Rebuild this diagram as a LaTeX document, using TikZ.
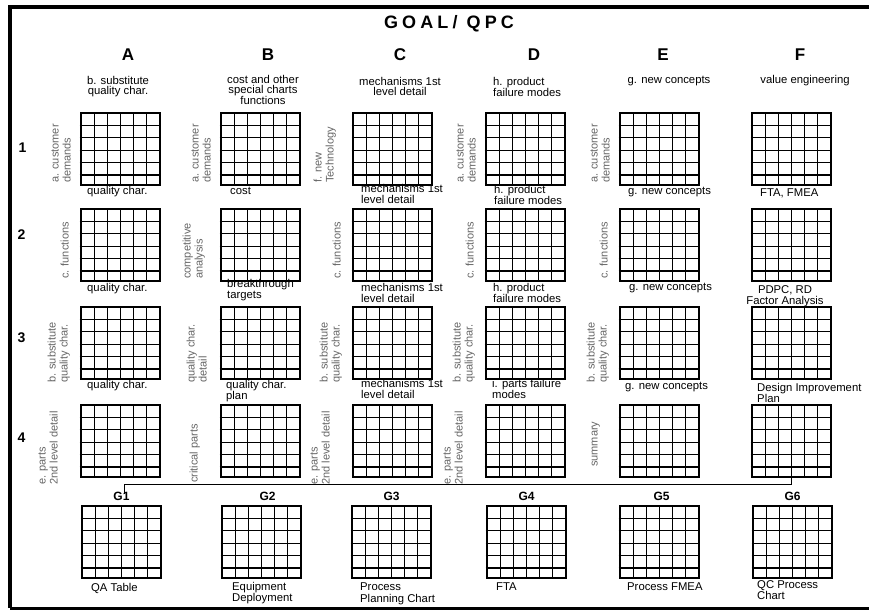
\documentclass[tikz,border=0pt]{standalone}
\usepackage{fontspec}
\setmainfont{Liberation Sans}
\usetikzlibrary{calc,positioning}

\tikzset{
  gridbox/.style={draw, line width=1.1pt, minimum width=79pt, minimum height=72pt,
    inner sep=0pt, outer sep=0pt, anchor=north west},
  gridline/.style={line width=1.1pt},
  title/.style={font=\bfseries\fontsize{18}{18}\selectfont\addfontfeature{LetterSpace=23}, inner sep=0pt},
  colhead/.style={font=\bfseries\fontsize{17}{17}\selectfont, inner sep=0pt},
  rowhead/.style={font=\bfseries\fontsize{14}{14}\selectfont, inner sep=0pt},
  ghead/.style={font=\bfseries\fontsize{12}{12}\selectfont, inner sep=0pt},
  toplbl/.style={font=\fontsize{11.3}{10}\selectfont, inner sep=0pt, align=center},
  lbl/.style={font=\fontsize{11.3}{11.5}\selectfont, inner sep=0pt, align=left, anchor=north west},
  vlbl/.style={font=\fontsize{11}{12}\selectfont, text=black!60, inner sep=0pt,
    align=left, rotate=90, anchor=south west},
  conn/.style={line width=1pt},
}

% one 6x6 matrix: name, left, top
\newcommand{\qgrid}[3]{%
  \node[gridbox] (#1) at (#2,#3) {};
  \foreach \k in {1,...,5} {
    \draw[gridline] ($(#1.north west)+(\k*13.17,0)$) -- ++(0,72);
    \draw[gridline] ($(#1.north west)+(-1.5,\k*12.4)$) -- ++(80.5,0);
  }
}

\begin{document}
\begin{tikzpicture}[x=1pt, y=-1pt]
  \useasboundingbox (0,0) rectangle (869,610);

  % Frame
  \draw[line width=4pt] (869,7) -- (10,7) -- (10,608);
  \draw[line width=2.5pt] (10,608.5) -- (869,608.5);

  % Title and headings
  \node[title] (title) at (449,23.5) {GOAL/ QPC};
  \node[colhead] (hA) at (128,55) {A};
  \node[colhead] (hB) at (268,55) {B};
  \node[colhead] (hC) at (400,55) {C};
  \node[colhead] (hD) at (534,55) {D};
  \node[colhead] (hE) at (663,55) {E};
  \node[colhead] (hF) at (800,55) {F};
  \node[rowhead] (r1) at (22.5,148) {1};
  \node[rowhead] (r2) at (21.5,235) {2};
  \node[rowhead] (r3) at (21.5,338) {3};
  \node[rowhead] (r4) at (21.5,438) {4};

  % Matrices
  \foreach \c/\x in {A/81, B/221, C/353, D/486, E/620, F/752} {
    \foreach \r/\y in {1/113, 2/209, 3/307, 4/405} {
      \qgrid{\c\r}{\x}{\y}
    }
  }
  \foreach \n/\x in {1/82, 2/222, 3/352, 4/487, 5/620, 6/753} {
    \qgrid{g\n}{\x}{506}
  }

  % Texts above row 1
  \node[toplbl] (tA) at (118,87) {b. substitute\\quality char.};
  \node[toplbl] (tB) at (263,90) {cost and other\\special charts\\functions};
  \node[toplbl] (tC) at (400,86) {mechanisms 1st\\level detail};
  \node[lbl] (tD) at (493,77) {h. product\\failure modes};
  \node[toplbl] (tE) at (669,81) {g. new concepts};
  \node[toplbl] (tF) at (805,81) {value engineering};

  % Texts below row 1
  \node[lbl] (bA1) at (87,186.5) {quality char.};
  \node[lbl] (bB1) at (230,187) {cost};
  \node[lbl] (bC1) at (361,184) {mechanisms 1st\\level detail};
  \node[lbl] (bD1) at (494,185) {h. product\\failure modes};
  \node[lbl] (bE1) at (628,186.5) {g. new concepts};
  \node[lbl] (bF1) at (760,189) {FTA, FMEA};

  % Texts below row 2
  \node[lbl] (bA2) at (87,283) {quality char.};
  \node[lbl] (bB2) at (227,279) {breakthrough\\targets};
  \node[lbl] (bC2) at (361,283) {mechanisms 1st\\level detail};
  \node[lbl] (bD2) at (493,283) {h. product\\failure modes};
  \node[lbl] (bE2) at (629,283) {g. new concepts};
  \node[lbl, align=center, anchor=north] (bF2) at (785,285) {PDPC, RD\\Factor Analysis};

  % Texts below row 3
  \node[lbl] (bA3) at (87,380) {quality char.};
  \node[lbl] (bB3) at (226,380) {quality char.\\plan};
  \node[lbl] (bC3) at (361,379) {mechanisms 1st\\level detail};
  \node[lbl] (bD3) at (492,379) {i. parts failure\\modes};
  \node[lbl] (bE3) at (625,382) {g. new concepts};
  \node[lbl] (bF3) at (757,383) {Design Improvement\\Plan};

  % Side texts (rotated)
  \foreach \c in {A,B,D,E}
    \node[vlbl] (v\c1) at ([shift={(-10,-2)}]\c1.south west) {a. customer\\demands};
  \node[vlbl] (vC1) at ([shift={(-17,-2)}]C1.south west) {f. new\\Technology};
  \foreach \c in {A,C,D,E}
    \node[vlbl] (v\c2) at ([shift={(-12,-2)}]\c2.south west) {c. functions};
  \node[vlbl] (vB2) at ([shift={(-16,-2)}]B2.south west) {competitive\\analysis};
  \foreach \c in {A,C,D,E}
    \node[vlbl] (v\c3) at ([shift={(-11,4)}]\c3.south west) {b. substitute\\quality char.};
  \node[vlbl] (vB3) at ([shift={(-14,4)}]B3.south west) {quality char.\\detail};
  \foreach \c in {A,C,D}
    \node[vlbl] (v\c4) at ([shift={(-23,8)}]\c4.south west) {e. parts\\2nd level detail};
  \node[vlbl] (vB4) at ([shift={(-21,6)}]B4.south west) {critical parts};
  \node[vlbl] (vE4) at ([shift={(-20,-10)}]E4.south west) {summary};

  % Bottom row
  \node[ghead, above=5pt of g1] (lg1) {G1};
  \node[ghead, above=5pt of g2, xshift=6pt] (lg2) {G2};
  \node[ghead, above=5pt of g3] (lg3) {G3};
  \node[ghead, above=5pt of g4] (lg4) {G4};
  \node[ghead, above=5pt of g5, xshift=2pt] (lg5) {G5};
  \node[ghead, above=5pt of g6] (lg6) {G6};

  \node[lbl] (bg1) at (91,583) {QA Table};
  \node[lbl] (bg2) at (232,582) {Equipment\\Deployment};
  \node[lbl] (bg3) at (360,583) {Process\\Planning Chart};
  \node[lbl] (bg4) at (496,583) {FTA};
  \node[lbl] (bg5) at (627,583) {Process FMEA};
  \node[lbl] (bg6) at (757,580) {QC Process\\Chart};

  % Link F4 -> G1
  \draw[conn] (F4.south) -- ++(0,7) -| ([shift={(3,2)}]lg1.north);
\end{tikzpicture}
\end{document}
